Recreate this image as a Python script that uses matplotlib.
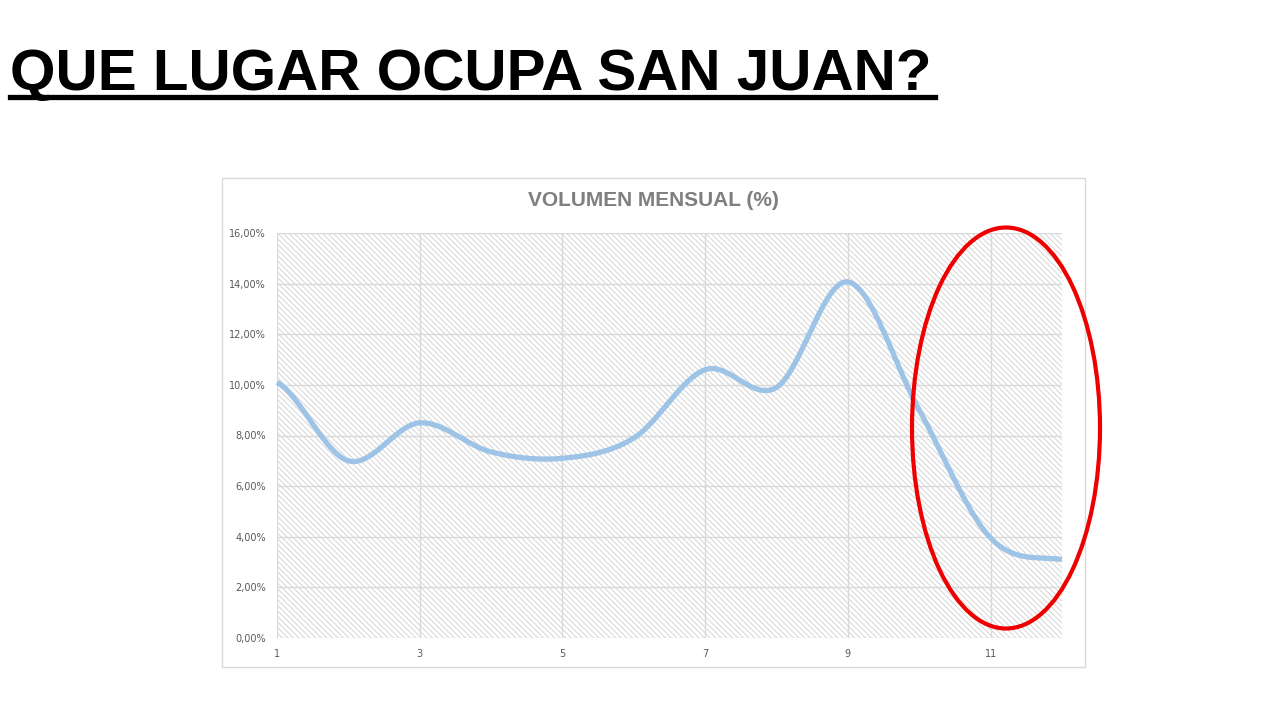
import numpy as np
import matplotlib
matplotlib.use("Agg")
import matplotlib.pyplot as plt
from matplotlib.patches import Rectangle, Ellipse
from matplotlib.ticker import FuncFormatter, FixedLocator
from matplotlib import font_manager

months = [1, 2, 3, 4, 5, 6, 7, 8, 9, 10, 11, 12]
volume_pct = [10.1, 7.0, 8.5, 7.35, 7.1, 7.9, 10.6, 9.9, 14.07, 9.0, 3.95, 3.1]
x_ticks = [1, 3, 5, 7, 9, 11]
y_ticks = [0, 2, 4, 6, 8, 10, 12, 14, 16]
main_title = "QUE LUGAR OCUPA SAN JUAN?"
chart_title = "VOLUMEN MENSUAL (%)"


def smooth(xs, ys, n=40):
    xs = np.asarray(xs, float)
    ys = np.asarray(ys, float)
    px = np.concatenate([[2 * xs[0] - xs[1]], xs, [2 * xs[-1] - xs[-2]]])
    py = np.concatenate([[ys[0]], ys, [ys[-1]]])
    ox, oy = [], []
    t = np.linspace(0, 1, n)
    for i in range(1, len(px) - 2):
        p0, p1, p2, p3 = [np.array([px[j], py[j]]) for j in (i - 1, i, i + 1, i + 2)]
        c1 = p1 + (p2 - p0) / 6.0
        c2 = p2 - (p3 - p1) / 6.0
        b = ((1 - t) ** 3)[:, None] * p1 + (3 * (1 - t) ** 2 * t)[:, None] * c1 \
            + (3 * (1 - t) * t ** 2)[:, None] * c2 + (t ** 3)[:, None] * p2
        ox.extend(b[:, 0])
        oy.extend(b[:, 1])
    return np.array(ox), np.array(oy)


names = {f.name for f in font_manager.fontManager.ttflist}
title_family = "Liberation Sans Narrow" if "Liberation Sans Narrow" in names else "Liberation Sans"

plt.rcParams["hatch.linewidth"] = 0.6

fig = plt.figure(figsize=(12.8, 7.2), dpi=100)
fig.patch.set_facecolor("white")

# chart box
fig.patches.append(Rectangle((222 / 1280, 1 - 667 / 720), (1085 - 222) / 1280, (667 - 178) / 720,
                             transform=fig.transFigure, fill=False, edgecolor="#d9d9d9", linewidth=1))

ax = fig.add_axes([277 / 1280, 1 - 638 / 720, (1062 - 277) / 1280, (638 - 233) / 720])
ax.add_patch(Rectangle((0, 0), 1, 1, transform=ax.transAxes, facecolor="white",
                       edgecolor="#cfcfcf", linewidth=0, hatch="\\\\\\\\\\\\", zorder=0))
ax.set_xlim(1, 12)
ax.set_ylim(0, 16)
ax.xaxis.set_major_locator(FixedLocator(x_ticks))
ax.yaxis.set_major_locator(FixedLocator(y_ticks))
ax.yaxis.set_major_formatter(FuncFormatter(lambda v, p: f"{v:.2f}%".replace(".", ",")))
ax.grid(True, color="#d9d9d9", linewidth=1, zorder=1)
ax.set_axisbelow(True)
for s in ax.spines.values():
    s.set_visible(False)
ax.tick_params(length=0, labelsize=7, colors="#595959", pad=8)

sx, sy = smooth(months, volume_pct)
ax.plot(sx, sy, color="#9dc3e6", linewidth=3.8, solid_capstyle="butt", zorder=3, clip_on=False)

fig.text(653 / 1280, 1 - 201 / 720, chart_title, ha="center", va="center",
         fontsize=15, fontweight="bold", color="#7f7f7f", family="Liberation Sans")

fs = 52 if title_family == "Liberation Sans Narrow" else 42
t = fig.text(10 / 1280, 1 - 90 / 720, main_title, ha="left", va="baseline",
             fontsize=fs, fontweight="bold", color="black", family=title_family)
fig.add_artist(plt.Line2D([10 / 1280, 935 / 1280], [1 - 97 / 720, 1 - 97 / 720],
                          transform=fig.transFigure, color="black", linewidth=3.8))

fig.patches.append(Ellipse((1006 / 1280, 1 - 428 / 720), 188 / 1280, 401 / 720,
                           transform=fig.transFigure, fill=False, edgecolor="#ee0000", linewidth=3))

fig.savefig("out.png", dpi=100)
